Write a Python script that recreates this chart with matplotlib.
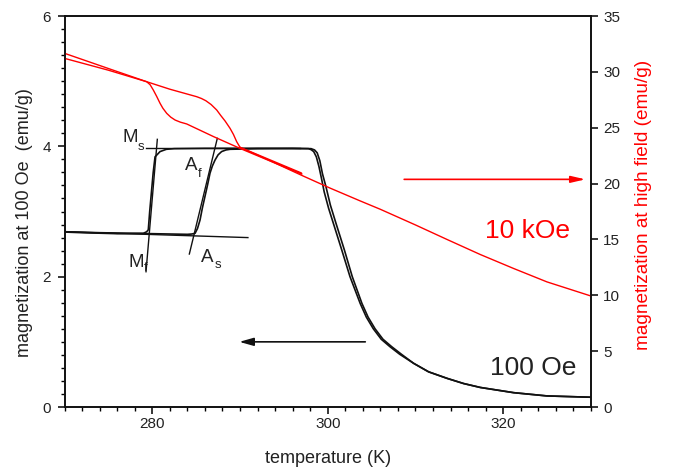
import matplotlib
matplotlib.use("Agg")
import matplotlib.pyplot as plt
from matplotlib.ticker import MultipleLocator

plt.rcParams["font.family"] = ["Liberation Sans", "DejaVu Sans"]

# ── 100 Oe, heating run (left axis, emu/g) ──
heat_T = [270, 274, 278, 282, 284, 284.5, 284.87, 285.15, 285.44, 285.7, 286.0,
          286.3, 286.58, 286.85, 287.15, 287.5, 287.9, 288.4, 288.86, 292, 296,
          298.1, 298.5, 298.8, 299.1, 299.4, 299.8, 300.3, 300.94, 301.9, 302.8,
          303.9, 304.6, 305.4, 306.3, 307.3, 308.4, 309.8, 311.5, 313.6, 315.5,
          317.4, 321.2, 325, 330]
heat_M = [2.69, 2.675, 2.665, 2.655, 2.65, 2.655, 2.665, 2.74, 2.87, 3.05, 3.23,
          3.41, 3.59, 3.70, 3.79, 3.87, 3.92, 3.945, 3.955, 3.965, 3.97,
          3.965, 3.945, 3.90, 3.78, 3.58, 3.38, 3.10, 2.82, 2.41, 2.0,
          1.59, 1.38, 1.2, 1.04, 0.925, 0.81, 0.67, 0.54, 0.44, 0.36,
          0.30, 0.22, 0.17, 0.15]

# ── 100 Oe, cooling run ──
cool_T = [330, 325, 321.2, 317.4, 315.5, 313.6, 311.5, 309.8, 308.2, 307.1, 306.1,
          305.2, 304.4, 303.7, 302.54, 301.6, 300.64, 300.1, 299.6, 299.3, 299.0,
          298.7, 298.4, 298.1, 297.8, 292, 286, 282.5, 281.6, 280.88, 280.6,
          280.31, 280.1, 279.9, 279.7, 279.54, 279.36, 278.97, 276, 272, 270]
cool_M = [0.15, 0.17, 0.22, 0.30, 0.36, 0.44, 0.54, 0.67, 0.81, 0.925, 1.04,
          1.2, 1.38, 1.59, 2.0, 2.41, 2.82, 3.05, 3.30, 3.50, 3.69,
          3.84, 3.92, 3.95, 3.965, 3.97, 3.97, 3.965, 3.955, 3.92, 3.88,
          3.84, 3.6, 3.3, 3.0, 2.72, 2.69, 2.665, 2.66, 2.675, 2.685]

# ── tangent construction lines ──
base_T, base_M = [270, 290.9], [2.69, 2.60]
top_T, top_M = [279.28, 296.8], [3.97, 3.97]
mart_T, mart_M = [279.28, 280.57], [2.076, 4.108]
aust_T, aust_M = [284.22, 287.41], [2.348, 4.123]

# ── 10 kOe (right axis, emu/g) ──
hf_heat_T = [270, 275, 279.36, 282, 285.06, 285.6, 286.1, 286.7, 287.34, 287.8,
             288.3, 288.86, 289.25, 289.62, 290.0, 293, 297, 300.26, 303.7, 306,
             310, 313.6, 317.4, 321.2, 325, 330]
hf_heat_M = [31.66, 30.3, 29.12, 28.45, 27.78, 27.62, 27.42, 27.08, 26.59, 26.1,
             25.6, 24.95, 24.4, 23.75, 23.25, 22.2, 20.75, 19.6, 18.45, 17.7,
             16.3, 15.0, 13.65, 12.4, 11.2, 9.94]
hf_loop_T = [290.0, 293.5, 297.0, 297.05, 293.5, 290.0]
hf_loop_M = [23.25, 22.1, 20.95, 20.85, 22.0, 23.15]
hf_cool_T = [290.0, 287, 283.92, 283.2, 282.6, 282.1, 281.64, 281.2, 280.88,
             280.5, 280.11, 279.75, 279.36, 275, 270]
hf_cool_M = [23.15, 24.2, 25.34, 25.5, 25.69, 25.95, 26.29, 26.75, 27.19,
             27.8, 28.38, 28.85, 29.12, 30.15, 31.21]

fig, ax = plt.subplots(figsize=(6.76, 4.72), dpi=100)
fig.subplots_adjust(left=0.0956, right=0.874, bottom=0.1377, top=0.966)
ax2 = ax.twinx()

black = "#111111"
ax.plot(heat_T, heat_M, color=black, lw=1.2, zorder=3)
ax.plot(cool_T, cool_M, color=black, lw=1.2, zorder=3)
for tx, my in [(base_T, base_M), (top_T, top_M), (mart_T, mart_M), (aust_T, aust_M)]:
    ax.plot(tx, my, color=black, lw=1.0, zorder=3)

ax2.plot(hf_heat_T, hf_heat_M, color="red", lw=1.0)
ax2.plot(hf_loop_T, hf_loop_M, color="red", lw=1.0)
ax2.plot(hf_cool_T, hf_cool_M, color="red", lw=1.0)

# arrows pointing at the axis each curve belongs to
ax.annotate("", xy=(289.6, 1.0), xytext=(304.6, 1.0),
            arrowprops=dict(arrowstyle="-|>,head_length=0.85,head_width=0.24",
                            mutation_scale=10, color=black, lw=1.2))
ax2.annotate("", xy=(329.7, 20.38), xytext=(308.4, 20.38),
             arrowprops=dict(arrowstyle="-|>,head_length=0.86,head_width=0.2",
                             mutation_scale=10, color="red", lw=1.2))

# transition temperature labels
lab = dict(color="#222222", va="baseline", ha="left")
ax.text(276.55, 4.07, "M", fontsize=13.5, **lab)
ax.text(278.35, 3.94, "s", fontsize=9.5, **lab)
ax.text(283.73, 3.636, "A", fontsize=13.5, **lab)
ax.text(285.15, 3.53, "f", fontsize=9.5, **lab)
ax.text(277.26, 2.153, "M", fontsize=13.5, **lab)
ax.text(279.05, 2.087, "f", fontsize=9.5, **lab)
ax.text(285.52, 2.23, "A", fontsize=13.5, **lab)
ax.text(287.15, 2.128, "s", fontsize=9.5, **lab)

ax.text(317.94, 2.593, "10 kOe", fontsize=19, color="red", va="baseline", ha="left")
ax.text(318.5, 0.491, "100 Oe", fontsize=19, color="#222222", va="baseline", ha="left")

ax.set_xlim(270, 330)
ax.set_ylim(0, 6)
ax2.set_ylim(0, 35)

ax.xaxis.set_major_locator(MultipleLocator(20))
ax.xaxis.set_minor_locator(MultipleLocator(2))
ax.yaxis.set_major_locator(MultipleLocator(2))
ax.yaxis.set_minor_locator(MultipleLocator(0.2))
ax2.yaxis.set_major_locator(MultipleLocator(5))

ax.tick_params(axis="both", which="major", direction="out", length=5, width=1.1,
               labelsize=11, labelcolor="#222222")
ax.tick_params(axis="both", which="minor", direction="out", length=3, width=1.0)
ax.tick_params(axis="x", which="major", pad=2)
ax.tick_params(axis="y", which="major", pad=5)
ax2.tick_params(axis="y", which="major", direction="out", length=5, width=1.1,
                labelsize=11, labelcolor="#222222", pad=4)

for a in (ax, ax2):
    for s in a.spines.values():
        s.set_linewidth(1.2)
        s.set_color(black)

ax.set_xlabel("temperature (K)", fontsize=13, color="#222222")
ax.set_ylabel("magnetization at 100 Oe  (emu/g)", fontsize=13, color="#222222")
ax2.set_ylabel("magnetization at high field (emu/g)", fontsize=13.7, color="red")
ax.xaxis.set_label_coords(0.5, -0.11)
ax.yaxis.set_label_coords(-0.0595, 0.473)
ax2.yaxis.set_label_coords(1.0836, 0.517)

fig.savefig("out.png", dpi=100)
